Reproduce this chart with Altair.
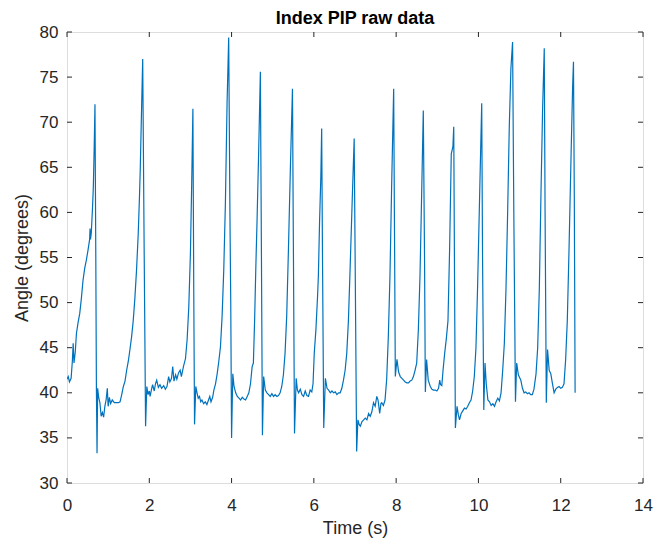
import altair as alt
import pandas as pd

time_s = [
    0.00, 0.03, 0.06, 0.10, 0.13, 0.15, 0.17, 0.20, 0.23, 0.27, 0.31, 0.35, 0.39, 0.43, 0.47, 0.51, 0.55, 0.56, 0.57, 0.59,
    0.62, 0.64, 0.66, 0.68, 0.70, 0.715, 0.73, 0.745, 0.77, 0.80, 0.83, 0.86, 0.89, 0.92, 0.95, 0.98, 1.00, 1.03, 1.06, 1.10,
    1.15, 1.20, 1.25, 1.29, 1.33, 1.37, 1.41, 1.45, 1.49, 1.53, 1.57, 1.61, 1.65, 1.69, 1.73, 1.76, 1.78, 1.81, 1.84, 1.87,
    1.91, 1.94, 1.97, 2.00, 2.02, 2.05, 2.08, 2.12, 2.15, 2.18, 2.22, 2.26, 2.30, 2.35, 2.39, 2.43, 2.47, 2.50, 2.54, 2.57,
    2.60, 2.64, 2.67, 2.71, 2.75, 2.78, 2.83, 2.88, 2.92, 2.96, 3.00, 3.03, 3.06, 3.08, 3.10, 3.13, 3.16, 3.19, 3.22, 3.25,
    3.28, 3.32, 3.36, 3.40, 3.44, 3.47, 3.50, 3.54, 3.57, 3.61, 3.65, 3.69, 3.73, 3.77, 3.81, 3.85, 3.89, 3.93, 3.96, 3.98,
    4.00, 4.03, 4.06, 4.10, 4.14, 4.18, 4.22, 4.26, 4.30, 4.34, 4.38, 4.42, 4.46, 4.50, 4.53, 4.56, 4.59, 4.62, 4.66, 4.70,
    4.72, 4.75, 4.78, 4.82, 4.86, 4.90, 4.94, 4.98, 5.02, 5.06, 5.10, 5.14, 5.18, 5.22, 5.26, 5.30, 5.34, 5.38, 5.43, 5.48,
    5.50, 5.53, 5.57, 5.60, 5.63, 5.67, 5.71, 5.75, 5.79, 5.83, 5.87, 5.91, 5.95, 5.98, 6.01, 6.05, 6.09, 6.11, 6.14, 6.17,
    6.19, 6.21, 6.24, 6.28, 6.32, 6.36, 6.40, 6.44, 6.48, 6.52, 6.56, 6.60, 6.64, 6.68, 6.72, 6.76, 6.80, 6.84, 6.88, 6.93,
    6.98, 7.01, 7.04, 7.07, 7.10, 7.13, 7.17, 7.21, 7.25, 7.29, 7.33, 7.37, 7.41, 7.45, 7.49, 7.53, 7.56, 7.60, 7.63, 7.65,
    7.69, 7.73, 7.77, 7.81, 7.85, 7.89, 7.94, 7.96, 7.98, 8.02, 8.06, 8.10, 8.14, 8.18, 8.22, 8.26, 8.30, 8.34, 8.38, 8.42,
    8.46, 8.50, 8.54, 8.58, 8.62, 8.66, 8.69, 8.71, 8.74, 8.78, 8.83, 8.87, 8.91, 8.95, 8.99, 9.03, 9.06, 9.08, 9.11, 9.14,
    9.18, 9.22, 9.26, 9.30, 9.34, 9.38, 9.40, 9.42, 9.44, 9.48, 9.51, 9.54, 9.58, 9.62, 9.66, 9.70, 9.74, 9.78, 9.82, 9.86,
    9.90, 9.94, 9.98, 10.03, 10.08, 10.10, 10.13, 10.16, 10.19, 10.23, 10.27, 10.31, 10.35, 10.39, 10.43, 10.47, 10.51, 10.55, 10.59, 10.63,
    10.67, 10.71, 10.75, 10.79, 10.83, 10.86, 10.90, 10.93, 10.97, 11.00, 11.03, 11.07, 11.11, 11.15, 11.19, 11.23, 11.27, 11.31, 11.35, 11.40,
    11.44, 11.48, 11.52, 11.56, 11.60, 11.62, 11.65, 11.68, 11.72, 11.76, 11.80, 11.84, 11.88, 11.92, 11.96, 12.00, 12.04, 12.08, 12.12, 12.16,
    12.20, 12.25, 12.29, 12.31, 12.33, 12.35,
]

angle_deg = [
    41.5, 41.8, 41.2, 41.6, 43.5, 45.5, 43.3, 44.5, 46.6, 47.8, 48.8, 50.5, 52.5, 53.8, 54.7, 55.8, 57.0, 58.2, 57.0, 57.7,
    60.5, 62.8, 67.0, 72.0, 55.0, 40.3, 33.3, 40.5, 39.5, 38.9, 37.4, 37.8, 37.3, 38.5, 39.2, 40.5, 38.5, 39.5, 38.8, 39.2,
    38.9, 38.9, 38.9, 39.0, 39.8, 40.7, 41.3, 42.5, 43.5, 44.8, 46.2, 48.0, 50.5, 53.6, 57.5, 61.5, 64.7, 71.0, 77.0, 59.0,
    36.3, 40.7, 39.8, 40.2, 39.6, 40.3, 40.9, 40.2, 41.0, 41.4, 40.6, 40.9, 40.5, 40.8, 40.4, 40.7, 41.8, 41.2, 41.6, 42.9,
    41.3, 42.0, 41.5, 42.2, 42.5, 41.8, 42.9, 43.8, 45.9, 49.5, 55.5, 63.0, 71.5, 52.0, 36.5, 40.7, 40.0, 39.4, 39.6, 39.0,
    39.2, 38.8, 39.0, 38.7, 39.2, 39.6, 39.0, 39.5, 40.3, 41.0, 42.1, 43.5, 45.1, 48.5, 53.6, 61.0, 72.0, 79.4, 60.0, 50.0,
    35.0, 42.1, 40.7, 40.0, 39.6, 39.4, 39.2, 39.5, 39.3, 39.2, 39.6, 40.0, 41.0, 42.9, 43.3, 48.0, 54.0, 59.2, 67.0, 75.6,
    60.0, 35.3, 41.8, 40.3, 40.0, 39.8, 39.6, 39.9, 39.6, 39.8, 39.6, 39.7, 40.0, 40.7, 42.0, 44.4, 48.5, 55.5, 65.0, 73.7,
    58.0, 35.5, 41.6, 40.3, 40.0, 40.4, 39.8, 39.6, 40.2, 39.7, 39.6, 40.3, 40.1, 41.0, 44.4, 47.0, 50.7, 53.0, 59.2, 64.0,
    69.3, 55.0, 36.1, 41.6, 40.5, 40.3, 40.0, 40.2, 40.0, 40.1, 39.8, 40.0, 40.0, 40.5, 41.4, 42.5, 44.4, 48.0, 53.6, 61.0,
    68.2, 51.0, 33.5, 37.0, 36.5, 36.3, 36.8, 37.0, 37.2, 37.0, 37.7, 37.4, 37.9, 38.9, 38.5, 39.6, 39.2, 37.7, 38.8, 38.9,
    38.6, 39.2, 41.5, 46.2, 53.0, 62.8, 73.7, 58.0, 41.8, 43.7, 42.3, 41.8, 41.6, 41.4, 41.2, 41.1, 41.1, 41.3, 41.4, 41.8,
    42.5, 43.3, 47.0, 53.0, 62.0, 71.3, 55.0, 40.1, 43.7, 41.4, 40.7, 40.4, 40.3, 40.3, 40.2, 40.5, 41.4, 40.9, 40.8, 42.5,
    44.4, 46.0, 48.0, 56.0, 66.5, 67.3, 69.5, 52.0, 36.1, 38.5, 37.6, 37.0, 37.7, 38.0, 38.3, 38.2, 38.5, 38.9, 39.2, 40.2,
    41.8, 45.0, 51.8, 62.0, 72.1, 55.0, 38.1, 43.3, 41.0, 39.2, 39.0, 38.6, 38.8, 38.5, 39.0, 39.4, 39.1, 40.0, 42.5, 45.5,
    51.5, 60.0, 69.5, 76.0, 78.9, 60.0, 39.0, 43.3, 42.0, 41.7, 41.4, 40.5, 40.0, 40.1, 39.9, 40.0, 39.8, 39.8, 40.4, 42.1,
    45.0, 51.5, 62.0, 71.5, 78.2, 60.0, 38.9, 44.8, 42.5, 42.1, 41.0, 40.0, 40.4, 40.6, 40.7, 40.5, 40.6, 41.0, 43.7, 48.0,
    55.5, 66.0, 74.0, 76.7, 62.0, 40.0,
]

x_ticks = [0, 2, 4, 6, 8, 10, 12, 14]
y_ticks = [30, 35, 40, 45, 50, 55, 60, 65, 70, 75, 80]
title_text = ["Index PIP raw data"]

W, H = 576, 451
FONT = "Liberation Sans"
AX = "#262626"

df = pd.DataFrame({"t": time_s, "a": angle_deg})
xt = pd.DataFrame({"t": x_ticks})
yt = pd.DataFrame({"a": y_ticks})
tt = pd.DataFrame({"title": title_text})

xs = alt.Scale(domain=[0, 14], nice=False, zero=False)
ys = alt.Scale(domain=[30, 80], nice=False, zero=False)

x_axis = alt.Axis(values=x_ticks, tickSize=0, domain=False, grid=False,
                  labelPadding=14, labelFlush=False, labelOverlap=False,
                  labelFontSize=17, labelFont=FONT, labelColor=AX,
                  titleFontSize=18, titleFont=FONT, titleColor=AX,
                  titleFontWeight="normal", titleY=36, titleBaseline="top")
y_axis = alt.Axis(values=y_ticks, tickSize=0, domain=False, grid=False,
                  labelPadding=9, labelFlush=False, labelOverlap=False,
                  labelFontSize=17, labelFont=FONT, labelColor=AX,
                  titleFontSize=18, titleFont=FONT, titleColor=AX,
                  titleFontWeight="normal", titleX=-45, titleY=H / 2,
                  titleBaseline="middle")

X = alt.X("t:Q", scale=xs, title="Time (s)", axis=x_axis)
Y = alt.Y("a:Q", scale=ys, title="Angle (degrees)", axis=y_axis)

line = alt.Chart(df).mark_line(color="#0072BD", strokeWidth=1.2, clip=True).encode(x=X, y=Y)

tick_len = 5
xb = alt.Chart(xt).mark_rule(color=AX, strokeWidth=1).encode(
    x=X, y=alt.value(H), y2=alt.value(H - tick_len))
xtop = alt.Chart(xt).mark_rule(color=AX, strokeWidth=1).encode(
    x=X, y=alt.value(0), y2=alt.value(tick_len))
yl = alt.Chart(yt).mark_rule(color=AX, strokeWidth=1).encode(
    y=Y, x=alt.value(0), x2=alt.value(tick_len))
yr = alt.Chart(yt).mark_rule(color=AX, strokeWidth=1).encode(
    y=Y, x=alt.value(W - tick_len), x2=alt.value(W))

title = alt.Chart(tt).mark_text(font=FONT, fontSize=18, fontWeight="bold", color="#000000",
                                align="center", baseline="middle").encode(
    text="title:N", x=alt.value(W / 2), y=alt.value(-13))

chart = alt.layer(line, xb, xtop, yl, yr, title).properties(
    width=W, height=H,
    autosize=alt.AutoSizeParams(type="none"),
    padding={"left": 59, "top": 24, "right": 13, "bottom": 57},
).configure_view(stroke="#3a3a3a", strokeWidth=1).configure(background="white")

chart.save("out.html", embed_options={"renderer": "svg", "actions": False})
